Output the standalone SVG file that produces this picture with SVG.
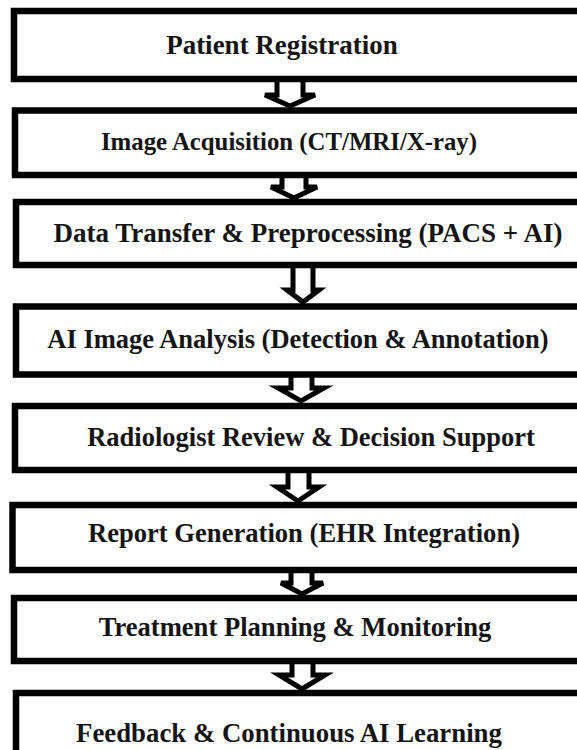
<svg xmlns="http://www.w3.org/2000/svg" width="577" height="750" viewBox="0 0 577 750">
<style>
.box{fill:#fff;stroke:#000;stroke-width:6.5}
.lbl{font-family:'Liberation Serif','Times New Roman',serif;font-weight:700;font-size:26.6px;fill:#141414;text-anchor:middle}
.arr{fill:#fff;stroke:#000;stroke-width:5;stroke-linejoin:miter}
</style>
<rect width="577" height="750" fill="#fff"/>
<g id="connectors">
<path class="arr" d="M277,80 V95 H265 L290,106 L315,95 H303 V80"/>
<path class="arr" d="M282,176 V187 H271 L294,198 L317,187 H306 V176"/>
<path class="arr" d="M293,266 V290 H287 L303,302 L319,290 H313 V266"/>
<path class="arr" d="M291,376 V388 H278 L301,401 L324,388 H312 V376"/>
<path class="arr" d="M288,471 V487 H277 L298,501 L319,487 H309 V471"/>
<path class="arr" d="M291,571 V583 H281 L302,594 L323,583 H312 V571"/>
<path class="arr" d="M292,662 V675 H279 L302,689 L325,675 H313 V662"/>
</g>
<g id="n1"><rect class="box" x="14" y="11" width="600" height="68"/><text class="lbl" x="282" y="53.5" style="font-size:27px">Patient Registration</text></g>
<g id="n2"><rect class="box" x="15" y="110.5" width="600" height="64.5"/><text class="lbl" x="289" y="150" style="font-size:24.8px">Image Acquisition (CT/MRI/X-ray)</text></g>
<g id="n3"><rect class="box" x="16" y="202" width="600" height="63"/><text class="lbl" x="308" y="241.5" style="font-size:27px">Data Transfer &amp; Preprocessing (PACS + AI)</text></g>
<g id="n4"><rect class="box" x="16" y="306.5" width="600" height="68"/><text class="lbl" x="298" y="347.5" style="font-size:26.5px">AI Image Analysis (Detection &amp; Annotation)</text></g>
<g id="n5"><rect class="box" x="15" y="406" width="600" height="64"/><text class="lbl" x="311" y="445.5" style="font-size:26.5px">Radiologist Review &amp; Decision Support</text></g>
<g id="n6"><rect class="box" x="12.5" y="505" width="600" height="65"/><text class="lbl" x="304" y="541.5">Report Generation (EHR Integration)</text></g>
<g id="n7"><rect class="box" x="14" y="598" width="600" height="63"/><text class="lbl" x="295" y="635.5">Treatment Planning &amp; Monitoring</text></g>
<g id="n8"><rect class="box" x="16" y="693" width="600" height="80"/><text class="lbl" x="289" y="741.5" style="font-size:26.8px">Feedback &amp; Continuous AI Learning</text></g>
</svg>
